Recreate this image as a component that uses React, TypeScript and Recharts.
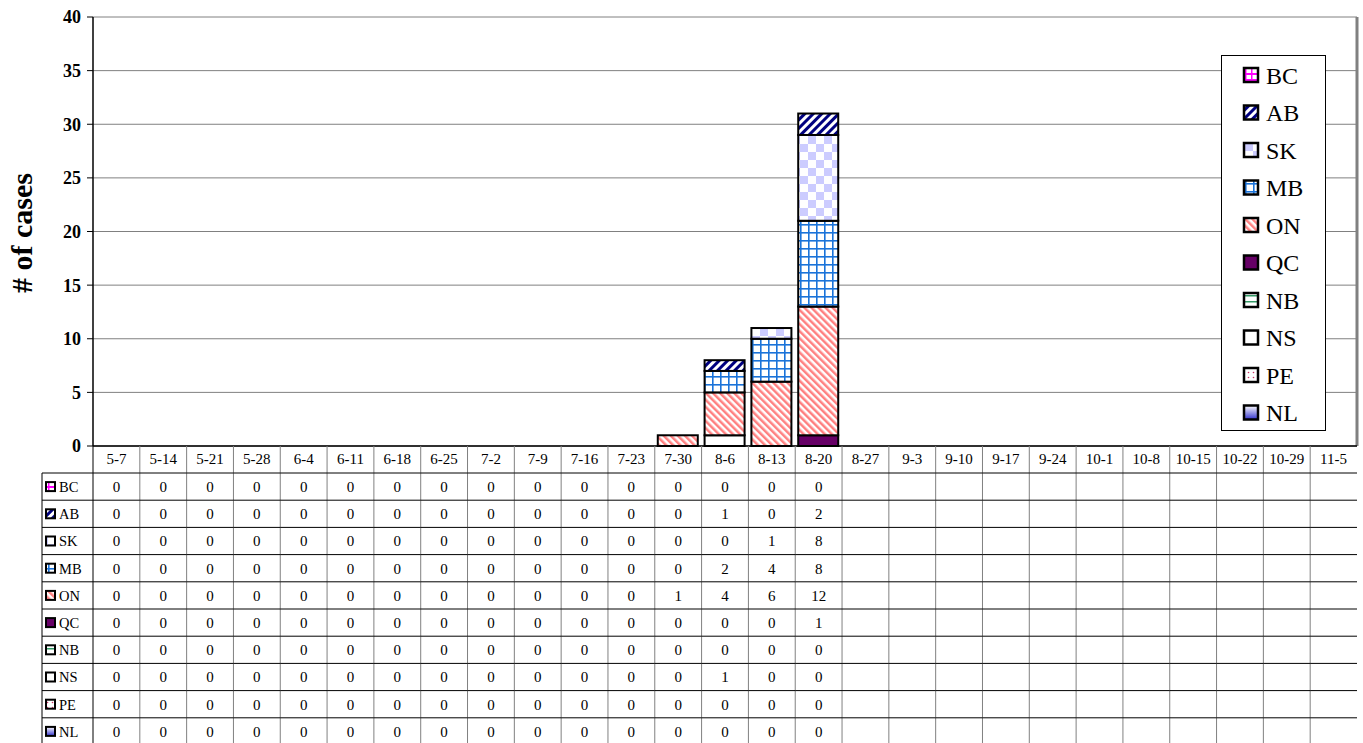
import { BarChart, Bar, XAxis, YAxis, CartesianGrid } from 'recharts';

const categories = [
  '5-7', '5-14', '5-21', '5-28', '6-4', '6-11', '6-18', '6-25', '7-2', '7-9',
  '7-16', '7-23', '7-30', '8-6', '8-13', '8-20', '8-27', '9-3', '9-10', '9-17',
  '9-24', '10-1', '10-8', '10-15', '10-22', '10-29', '11-5',
];

const _ = null;
const bc = [0, 0, 0, 0, 0, 0, 0, 0, 0, 0, 0, 0, 0, 0, 0, 0, _, _, _, _, _, _, _, _, _, _, _];
const ab = [0, 0, 0, 0, 0, 0, 0, 0, 0, 0, 0, 0, 0, 1, 0, 2, _, _, _, _, _, _, _, _, _, _, _];
const sk = [0, 0, 0, 0, 0, 0, 0, 0, 0, 0, 0, 0, 0, 0, 1, 8, _, _, _, _, _, _, _, _, _, _, _];
const mb = [0, 0, 0, 0, 0, 0, 0, 0, 0, 0, 0, 0, 0, 2, 4, 8, _, _, _, _, _, _, _, _, _, _, _];
const on = [0, 0, 0, 0, 0, 0, 0, 0, 0, 0, 0, 0, 1, 4, 6, 12, _, _, _, _, _, _, _, _, _, _, _];
const qc = [0, 0, 0, 0, 0, 0, 0, 0, 0, 0, 0, 0, 0, 0, 0, 1, _, _, _, _, _, _, _, _, _, _, _];
const nb = [0, 0, 0, 0, 0, 0, 0, 0, 0, 0, 0, 0, 0, 0, 0, 0, _, _, _, _, _, _, _, _, _, _, _];
const ns = [0, 0, 0, 0, 0, 0, 0, 0, 0, 0, 0, 0, 0, 1, 0, 0, _, _, _, _, _, _, _, _, _, _, _];
const pe = [0, 0, 0, 0, 0, 0, 0, 0, 0, 0, 0, 0, 0, 0, 0, 0, _, _, _, _, _, _, _, _, _, _, _];
const nl = [0, 0, 0, 0, 0, 0, 0, 0, 0, 0, 0, 0, 0, 0, 0, 0, _, _, _, _, _, _, _, _, _, _, _];

// legend / table order (top to bottom)
const provinces = ['BC', 'AB', 'SK', 'MB', 'ON', 'QC', 'NB', 'NS', 'PE', 'NL'];
const yTicks = [0, 5, 10, 15, 20, 25, 30, 35, 40];

const SERIES: Record<string, (number | null)[]> = {
  BC: bc, AB: ab, SK: sk, MB: mb, ON: on, QC: qc, NB: nb, NS: ns, PE: pe, NL: nl,
};

const FILLS: Record<string, string> = {
  BC: 'url(#pBC)',
  AB: 'url(#pAB)',
  SK: 'url(#pSK)',
  MB: 'url(#pMB)',
  ON: 'url(#pON)',
  QC: '#660066',
  NB: 'url(#pNB)',
  NS: '#ffffff',
  PE: 'url(#pPE)',
  NL: 'url(#gNL)',
};

const data = categories.map((cat, i) => {
  const row: Record<string, string | number | null> = { cat };
  provinces.forEach((p) => {
    row[p] = SERIES[p][i];
  });
  return row;
});

const W = 1363;
const H = 743;
const LEFT = 93;
const RIGHT = 6;
const BAND = (W - LEFT - RIGHT) / categories.length;
const ROW_H = 27.2;
const HEAD_BOTTOM = 473;
const FONT = "'Liberation Serif', 'Times New Roman', serif";

function BarShape(props: any) {
  const { x, y, width, height, fill } = props;
  if (!(height > 0)) return null;
  return (
    <rect x={x} y={y} width={width} height={height} fill={fill} stroke="#000" strokeWidth={2} />
  );
}

function TableTick(props: any) {
  const { x, y, payload } = props;
  const idx = categories.indexOf(payload.value);
  const x0 = x - BAND / 2;
  const x1 = x + BAND / 2;
  const rows = provinces.map((p, r) => {
    const v = SERIES[p][idx];
    const top = HEAD_BOTTOM + r * ROW_H;
    return (
      <g key={p}>
        <line x1={x0} x2={x1} y1={top} y2={top} stroke="#000" strokeWidth={1} />
        {v !== null && (
          <text x={x} y={top + 19} textAnchor="middle" fontSize={15} fill="#000" stroke="none">
            {v}
          </text>
        )}
      </g>
    );
  });
  return (
    <g fontFamily={FONT}>
      {idx < categories.length - 1 && (
        <line x1={x1} x2={x1} y1={y} y2={H} stroke="#808080" strokeWidth={1} />
      )}
      <text x={x} y={y + 18} textAnchor="middle" fontSize={15} fill="#000" stroke="none">
        {payload.value}
      </text>
      {rows}
      {idx === 0 && (
        <g>
          <line x1={x0} x2={x0} y1={y} y2={H} stroke="#000" strokeWidth={1} />
          <line x1={42} x2={42} y1={HEAD_BOTTOM} y2={H} stroke="#000" strokeWidth={1} />
          {provinces.map((p, r) => {
            const top = HEAD_BOTTOM + r * ROW_H;
            return (
              <g key={p}>
                <line x1={42} x2={x0} y1={top} y2={top} stroke="#000" strokeWidth={1} />
                <rect x={46} y={top + ROW_H / 2 - 4.5} width={9} height={9} fill={FILLS[p]} stroke="#000" strokeWidth={2} />
                <text x={59} y={top + 19} fontSize={14.5} fill="#000" stroke="none">
                  {p}
                </text>
              </g>
            );
          })}
        </g>
      )}
    </g>
  );
}

function YLabel() {
  return (
    <text
      transform="translate(32,233) rotate(-90)"
      textAnchor="middle"
      fontFamily={FONT}
      fontWeight="bold"
      fontSize={30}
      fill="#000"
    >
      # of cases
    </text>
  );
}

const LEG_X = 1221;
const LEG_Y = 55;
const LEG_W = 105;
const LEG_H = 376;
const LEG_STEP = 37.5;

function LegendBox() {
  return (
    <svg
      width={LEG_W}
      height={LEG_H}
      style={{ position: 'absolute', left: LEG_X, top: LEG_Y }}
    >
      <rect x={0.5} y={0.5} width={LEG_W - 1} height={LEG_H - 1} fill="#fff" stroke="#000" strokeWidth={1} />
      {provinces.map((p, i) => {
        const cy = 20 + i * LEG_STEP;
        return (
          <g key={p}>
            <rect x={23} y={cy - 7} width={14} height={14} fill={FILLS[p]} stroke="#000" strokeWidth={2.5} />
            <text x={45} y={cy + 8.5} fontFamily={FONT} fontSize={24} fill="#000">
              {p}
            </text>
          </g>
        );
      })}
    </svg>
  );
}

export default function App() {
  const stackOrder = [...provinces].reverse();
  return (
    <div style={{ position: 'absolute', left: 0, top: 0, width: W, height: H, background: '#fff' }}>
      <BarChart
        width={W}
        height={H}
        data={data}
        margin={{ top: 17, right: RIGHT, bottom: 0, left: 0 }}
        barSize={40}
        style={{ fontFamily: FONT }}
      >
        <defs>
          <pattern id="pAB" width={6} height={6} patternUnits="userSpaceOnUse" patternTransform="rotate(45)">
            <rect width={6} height={6} fill="#fff" />
            <rect width={3} height={6} fill="#000080" />
          </pattern>
          <pattern id="pON" width={5} height={5} patternUnits="userSpaceOnUse" patternTransform="rotate(-45)">
            <rect width={5} height={5} fill="#fff" />
            <rect width={2.5} height={5} fill="#ff8080" />
          </pattern>
          <pattern id="pMB" width={8} height={8} patternUnits="userSpaceOnUse">
            <rect width={8} height={8} fill="#fff" />
            <rect x={0} y={0} width={1.6} height={8} fill="#1a73d9" />
            <rect x={0} y={0} width={8} height={1.6} fill="#1a73d9" />
          </pattern>
          <pattern id="pSK" width={16} height={16} patternUnits="userSpaceOnUse">
            <rect width={16} height={16} fill="#fff" />
            <rect x={0} y={0} width={8} height={8} fill="#ccccff" />
            <rect x={8} y={8} width={8} height={8} fill="#ccccff" />
          </pattern>
          <pattern id="pNB" width={6} height={6} patternUnits="userSpaceOnUse">
            <rect width={6} height={6} fill="#fff" />
            <rect width={6} height={1.5} fill="#339966" />
          </pattern>
          <pattern id="pBC" width={6} height={6} patternUnits="userSpaceOnUse">
            <rect width={6} height={6} fill="#fff" />
            <rect width={6} height={2} fill="#ff00ff" />
            <rect width={1.5} height={6} fill="#ff00ff" />
          </pattern>
          <pattern id="pPE" width={5} height={5} patternUnits="userSpaceOnUse">
            <rect width={5} height={5} fill="#fff" />
            <circle cx={2.5} cy={2.5} r={0.8} fill="#cc3366" />
          </pattern>
          <linearGradient id="gNL" x1="0" y1="0" x2="0" y2="1">
            <stop offset="0%" stopColor="#ffffff" />
            <stop offset="100%" stopColor="#3333cc" />
          </linearGradient>
        </defs>
        <CartesianGrid horizontal vertical={false} stroke="#808080" strokeWidth={1} />
        <CartesianGrid
          horizontal={false}
          vertical
          verticalCoordinatesGenerator={({ offset }: any) => [offset.left + offset.width]}
          stroke="#808080"
          strokeWidth={3}
        />
        <XAxis
          dataKey="cat"
          height={H - 446}
          interval={0}
          tickLine={false}
          tickSize={0}
          tickMargin={0}
          axisLine={{ stroke: '#000', strokeWidth: 1.5 }}
          tick={<TableTick />}
        />
        <YAxis
          width={LEFT}
          domain={[0, 40]}
          ticks={yTicks}
          interval={0}
          tickSize={6}
          tickMargin={6}
          axisLine={{ stroke: '#000', strokeWidth: 1.5 }}
          tickLine={{ stroke: '#000' }}
          tick={{ fill: '#000', fontSize: 18, fontWeight: 'bold', fontFamily: FONT }}
          label={{ content: () => <YLabel /> }}
        />
        {stackOrder.map((p) => (
          <Bar
            key={p}
            dataKey={p}
            stackId="a"
            fill={FILLS[p]}
            shape={<BarShape />}
            isAnimationActive={false}
          />
        ))}
      </BarChart>
      <LegendBox />
    </div>
  );
}
